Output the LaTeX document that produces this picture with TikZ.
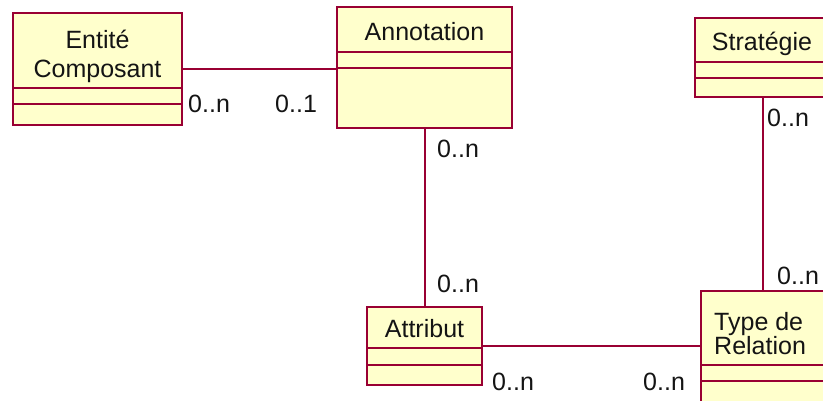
\documentclass[tikz,border=0pt]{standalone}
\usepackage{fontspec}
\setmainfont{Liberation Sans}
\definecolor{umlborder}{RGB}{153,0,51}
\definecolor{umlfill}{RGB}{255,255,204}
\definecolor{umltext}{RGB}{20,20,20}
\begin{document}
\begin{tikzpicture}[x=1pt,y=-1pt,
  cls/.style={draw=umlborder, fill=umlfill, line width=2pt, rectangle, inner sep=0pt, outer sep=0pt},
  divline/.style={draw=umlborder, line width=2pt},
  assoc/.style={draw=umlborder, line width=2pt},
  title/.style={anchor=base, inner sep=0pt, text=umltext, font=\fontsize{25}{29}\selectfont},
  mult/.style={anchor=base west, inner sep=0pt, text=umltext, font=\fontsize{25}{29}\selectfont}]
\useasboundingbox (0,0) rectangle (823,400);
\begin{scope}
\clip (0,0) rectangle (823,400);
\fill[white] (0,0) rectangle (823,400);
% classes
\node[cls, minimum width=169pt, minimum height=112pt] (ent) at (97.5,69) {};
\node[cls, minimum width=175pt, minimum height=121pt] (ann) at (424.5,67.5) {};
\node[cls, minimum width=136pt, minimum height=79pt] (str) at (763,57.5) {};
\node[cls, minimum width=115pt, minimum height=78pt] (att) at (424.5,346) {};
\node[cls, minimum width=124pt, minimum height=111pt] (typ) at (763,346.5) {};
% compartments
\draw[divline] (ent.west |- 0,88) -- (ent.east |- 0,88);
\draw[divline] (ent.west |- 0,104) -- (ent.east |- 0,104);
\draw[divline] (ann.west |- 0,52) -- (ann.east |- 0,52);
\draw[divline] (ann.west |- 0,68) -- (ann.east |- 0,68);
\draw[divline] (str.west |- 0,62) -- (str.east |- 0,62);
\draw[divline] (str.west |- 0,78) -- (str.east |- 0,78);
\draw[divline] (att.west |- 0,348) -- (att.east |- 0,348);
\draw[divline] (att.west |- 0,365) -- (att.east |- 0,365);
\draw[divline] (typ.west |- 0,365) -- (typ.east |- 0,365);
\draw[divline] (typ.west |- 0,381) -- (typ.east |- 0,381);
% titles
\node[title] (entT1) at (97.5,48) {Entité};
\node[title] (entT2) at (97.5,77) {Composant};
\node[title] (annT) at (424.5,40) {Annotation};
\node[title] (strT) at (762,50) {Stratégie};
\node[title] (attT) at (424.5,337) {Attribut};
\node[title, anchor=base west] (typT1) at (714,330) {Type de};
\node[title, anchor=base west] (typT2) at (714,354) {Relation};
% associations
\draw[assoc] (ent.east) -- (ann.west |- ent.east);
\draw[assoc] (ann.south) -- (att.north);
\draw[assoc] (att.east) -- (typ.west |- att.east);
\draw[assoc] (str.south) -- (typ.north);
% multiplicities
\node[mult] (m1) at (188,112) {0..n};
\node[mult] (m2) at (275,112) {0..1};
\node[mult] (m3) at (437,157) {0..n};
\node[mult] (m4) at (437,292) {0..n};
\node[mult] (m5) at (767,126) {0..n};
\node[mult] (m6) at (777,284) {0..n};
\node[mult] (m7) at (492,390) {0..n};
\node[mult] (m8) at (643,390) {0..n};
\end{scope}
\end{tikzpicture}
\end{document}
